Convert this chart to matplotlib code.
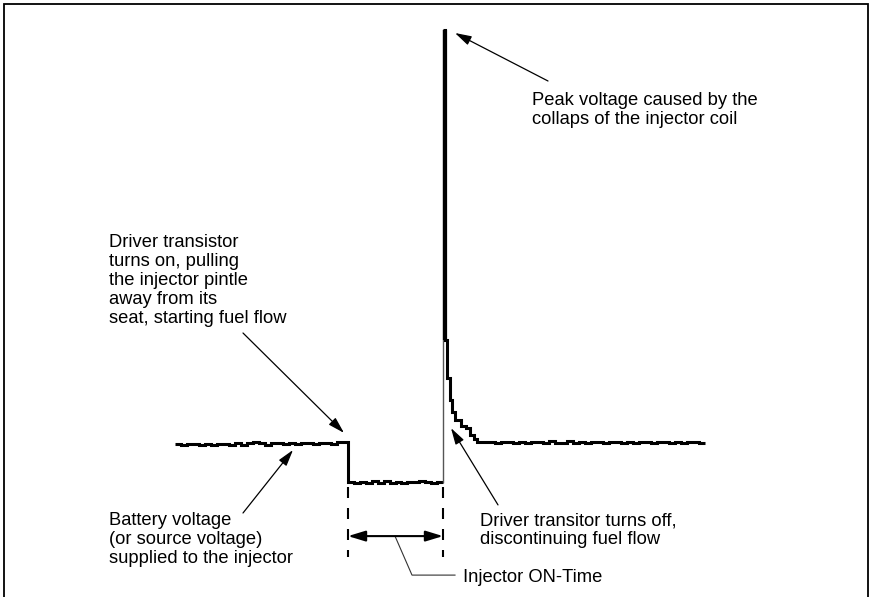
import numpy as np
import matplotlib
matplotlib.use("Agg")
import matplotlib.pyplot as plt
from matplotlib.patches import Rectangle

plt.rcParams['font.family'] = ['Liberation Sans', 'DejaVu Sans']

# ---------------- data (time in ms, voltage in V) ----------------
t_start = -6.92          # start of trace
t_on = 0.0               # driver transistor turns on
t_off = 3.8              # driver transistor turns off
t_end = 14.28            # end of trace
dt = 0.24                # sample interval of baseline segments
peak_v = 152.0

pre_volts = [14.0, 13.6, 14.0, 14.0, 13.6, 14.1, 13.7, 14.1, 14.1, 13.7,
             14.2, 13.8, 14.3, 14.7, 14.2, 13.8, 14.3, 14.3, 13.9, 14.4,
             14.0, 14.4, 14.4, 14.0, 14.5, 14.5, 14.1, 14.8, 14.6]

on_volts = [1.2, 0.9, 1.3, 1.0, 1.6, 1.1, 1.6, 1.0, 1.5, 0.9,
            1.2, 1.2, 1.7, 1.3, 0.9, 1.5]

spike_t = [3.80, 3.88, 3.97, 4.06, 4.16, 4.28, 4.52, 4.72, 4.88, 5.04]
spike_volts = [152.0, 48.7, 36.0, 28.7, 24.7, 22.0, 20.0, 19.3, 17.0, 15.7]

post_start = 5.16
post_volts = [14.8, 14.8, 14.8, 14.4, 14.8, 14.8, 14.4, 14.8, 14.4, 14.8,
              14.8, 14.5, 14.9, 14.5, 14.5, 14.9, 14.4, 14.8, 14.5, 14.8,
              14.8, 14.4, 14.8, 14.8, 14.4, 14.8, 14.5, 14.8, 14.8, 14.4,
              14.8, 14.8, 14.5, 14.8, 14.4, 14.8, 14.8, 14.4]

# ---------------- figure ----------------
W, H = 871, 597
fig = plt.figure(figsize=(W / 100, H / 100), dpi=100)
ax = fig.add_axes([0, 0, 1, 1])
# 25 px per ms, 3 px per volt
ax.set_xlim(-348 / 25, (W - 348) / 25)
ax.set_ylim((486 - H) / 3, 486 / 3)
ax.axis('off')

# frame
ax.add_patch(Rectangle((4 / W, -0.02), (868 - 4) / W, 1 - 4 / H + 0.02,
                       transform=ax.transAxes, fill=False, lw=1.3,
                       edgecolor='black', clip_on=False))

# segment A: baseline + on-time
pre_t = t_start + dt * np.arange(len(pre_volts))
on_t = np.linspace(t_on, t_off, len(on_volts), endpoint=False)
A_t = np.concatenate([pre_t, on_t, [t_off]])
A_v = np.concatenate([pre_volts, on_volts, [on_volts[-1]]])
ax.plot(A_t, A_v, drawstyle='steps-post', color='black', lw=2.2,
        solid_joinstyle='miter', solid_capstyle='butt')

# rising edge (thin)
ax.plot([t_off, t_off], [on_volts[-1], peak_v], color='#555555', lw=1.0)

# segment B: spike, decay and baseline
post_t = post_start + dt * np.arange(len(post_volts))
B_t = np.concatenate([spike_t, post_t, [t_end]])
B_v = np.concatenate([spike_volts, post_volts, [post_volts[-1]]])
ax.plot(B_t, B_v, drawstyle='steps-post', color='black', lw=2.2,
        solid_joinstyle='miter', solid_capstyle='butt')
# heavy falling edge of the spike
ax.plot([spike_t[1], spike_t[1]], [spike_volts[0], spike_volts[1]],
        color='black', lw=3.0, solid_capstyle='butt')

# dashed markers of on-time
lw_d = 1.5
for tt in (t_on, t_off):
    ax.plot([tt, tt], [-0.4, -23.7], color='black', lw=lw_d,
            linestyle=(0, (11 * 0.72 / lw_d, 10 * 0.72 / lw_d)))

# double arrow
ax.annotate('', xy=(t_off, -16.7), xytext=(t_on, -16.7),
            arrowprops=dict(arrowstyle='<|-|>,head_length=1.05,head_width=0.32',
                            color='black', lw=1.5, shrinkA=0, shrinkB=0,
                            mutation_scale=10))
# leader to label
ax.plot([1.88, 2.56, 4.28], [-16.7, -29.7, -29.7], color='#333333', lw=0.8)

fs = 13.2
sp = 19 / 3  # line spacing in volts


def lines(x, y0, txt):
    for i, s in enumerate(txt):
        ax.text(x, y0 - i * sp, s, fontsize=fs, ha='left', va='baseline',
                color='black')


lines(4.6, (486 - 582) / 3, ["Injector ON-Time"])
lines(7.36, (486 - 105) / 3, ["Peak voltage caused by the",
                             "collaps of the injector coil"])
lines(-9.56, (486 - 247) / 3, ["Driver transistor", "turns on, pulling",
                              "the injector pintle", "away from its",
                              "seat, starting fuel flow"])
lines(-9.56, (486 - 525) / 3, ["Battery voltage", "(or source voltage)",
                              "supplied to the injector"])
lines(5.28, (486 - 525) / 3, ["Driver transitor turns off,",
                             "discontinuing fuel flow"])

aprops = dict(arrowstyle='-|>,head_length=1.0,head_width=0.29', color='black',
              lw=0.9, shrinkA=0, shrinkB=0, mutation_scale=10)
for tip, tail in [((4.28, 151), (8.0, 135)),
                  ((-0.16, 17.7), (-4.2, 51)),
                  ((-2.2, 12), (-4.2, -9)),
                  ((4.12, 19.3), (6.0, -6.3))]:
    ax.annotate('', xy=tip, xytext=tail, arrowprops=aprops)

fig.savefig('out.png', dpi=100)
